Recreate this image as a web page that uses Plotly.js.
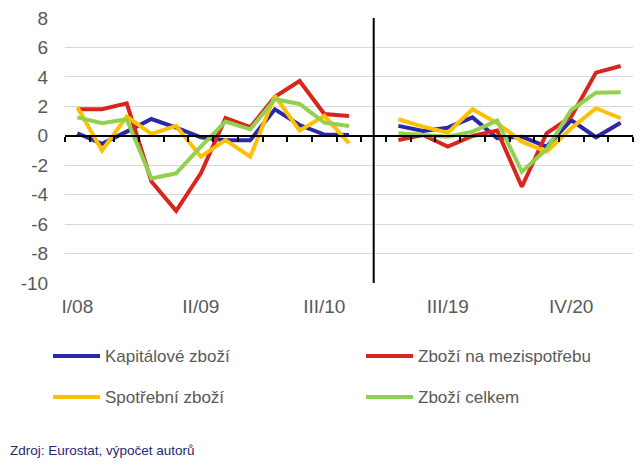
<!DOCTYPE html>
<html>
<head>
<meta charset="utf-8">
<script src="https://cdn.plot.ly/plotly-3.0.1.min.js"></script>
<style>
  html, body { margin: 0; padding: 0; background: #ffffff; }
  #chart { width: 644px; height: 465px; }
</style>
</head>
<body>
<div id="chart"></div>
<script>
// ---- Data ----
var quartersLeft  = ['I/08','II/08','III/08','IV/08','I/09','II/09','III/09','IV/09','I/10','II/10','III/10','IV/10'];
var quartersRight = ['I/19','II/19','III/19','IV/19','I/20','II/20','III/20','IV/20','I/21','II/21'];
var shownLabels   = ['I/08','II/09','III/10','III/19','IV/20'];

var yTickValues = [-10, -8, -6, -4, -2, 0, 2, 4, 6, 8];
var yTickLabels = ['-10', '-8', '-6', '-4', '-2', '0', '2', '4', '6', '8'];

var seriesNames = ['Kapitálové zboží', 'Zboží na mezispotřebu', 'Spotřební zboží', 'Zboží celkem'];
var seriesColors = ['#2a2aa8', '#d9261c', '#ffc000', '#92d050'];

var kapitaloveLeft  = [0.17, -0.55, 0.28, 1.14, 0.55, -0.1, -0.3, -0.3, 1.8, 0.73, 0.08, 0.05];
var kapitaloveRight = [0.67, 0.33, 0.55, 1.25, -0.17, -0.06, -0.74, 1.07, -0.1, 0.89];

var mezispotrebaLeft  = [1.8, 1.8, 2.2, -3.1, -5.1, -2.55, 1.2, 0.58, 2.65, 3.72, 1.48, 1.35];
var mezispotrebaRight = [-0.29, 0.05, -0.74, -0.01, 0.35, -3.46, 0.17, 1.3, 4.29, 4.74];

var spotrebniLeft  = [1.93, -1.0, 1.3, 0.12, 0.67, -1.42, -0.29, -1.42, 2.7, 0.35, 1.35, -0.51];
var spotrebniRight = [1.12, 0.62, 0.21, 1.8, 0.85, -0.4, -1.08, 0.51, 1.87, 1.19];

var celkemLeft  = [1.25, 0.85, 1.12, -2.9, -2.55, -0.74, 0.96, 0.44, 2.48, 2.16, 0.89, 0.67];
var celkemRight = [0.17, 0.05, -0.06, 0.28, 1.03, -2.44, -0.92, 1.75, 2.93, 2.95];

var sourceText = 'Zdroj: Eurostat, výpočet autorů';

// ---- Build the category sequence with one empty slot between the periods ----
var categories = quartersLeft.concat(['']).concat(quartersRight);
var gapIndex = quartersLeft.length;
var xIdx = categories.map(function (c, i) { return i; });

function joinSeries(left, right) { return left.concat([null]).concat(right); }
var seriesValues = [
  joinSeries(kapitaloveLeft, kapitaloveRight),
  joinSeries(mezispotrebaLeft, mezispotrebaRight),
  joinSeries(spotrebniLeft, spotrebniRight),
  joinSeries(celkemLeft, celkemRight)
];

var traces = seriesNames.map(function (name, k) {
  return {
    type: 'scatter', mode: 'lines', name: name,
    x: xIdx, y: seriesValues[k],
    connectgaps: false,
    line: { color: seriesColors[k], width: 4 },
    hoverinfo: 'skip', showlegend: false,
    xaxis: 'x', yaxis: 'y'
  };
});
// empty trace so the zero-line axis (x2) has a subplot
traces.push({ type: 'scatter', mode: 'lines', x: [], y: [], xaxis: 'x2', yaxis: 'y', showlegend: false, hoverinfo: 'skip' });

var tickvals = shownLabels.map(function (l) { return categories.indexOf(l); });

// ---- layout geometry ----
var M = { l: 65, r: 11, t: 18, b: 182 };
var W = 644, H = 465;
var pw = W - M.l - M.r, ph = H - M.t - M.b;
function px(x) { return (x - M.l) / pw; }
function py(y) { return (H - M.b - y) / ph; }

var yMin = yTickValues[0], yMax = yTickValues[yTickValues.length - 1];
var xRange = [-0.5, categories.length - 0.5];
var font = 'Liberation Sans, Arial, sans-serif';

var shapes = [{
  type: 'line', xref: 'x', yref: 'y',
  x0: gapIndex, x1: gapIndex, y0: yMin, y1: yMax,
  line: { color: '#000000', width: 2 }
}];
var annotations = [];

// custom legend (two columns, two rows)
var legendPos = [
  { lx: 53, ty: 356 }, { lx: 366, ty: 356 },
  { lx: 53, ty: 397 }, { lx: 366, ty: 397 }
];
seriesNames.forEach(function (name, k) {
  var p = legendPos[k];
  shapes.push({
    type: 'line', xref: 'paper', yref: 'paper',
    x0: px(p.lx), x1: px(p.lx + 47), y0: py(p.ty), y1: py(p.ty),
    line: { color: seriesColors[k], width: 4 }
  });
  annotations.push({
    xref: 'paper', yref: 'paper', x: px(p.lx + 50), y: py(p.ty),
    xanchor: 'left', yanchor: 'middle', showarrow: false,
    text: name, font: { family: font, size: 17, color: '#595959' }
  });
});

annotations.push({
  xref: 'paper', yref: 'paper', x: px(8), y: py(451),
  xanchor: 'left', yanchor: 'middle', showarrow: false,
  text: sourceText, font: { family: font, size: 13.5, color: '#28286e' }
});

var layout = {
  width: W, height: H,
  margin: M,
  paper_bgcolor: '#ffffff', plot_bgcolor: '#ffffff',
  showlegend: false,
  font: { family: font, color: '#595959' },
  xaxis: {
    type: 'linear', range: xRange,
    tickmode: 'array', tickvals: tickvals, ticktext: shownLabels,
    ticks: 'outside', ticklen: 6, tickcolor: 'rgba(0,0,0,0)',
    showgrid: false, zeroline: false, showline: false,
    tickfont: { family: font, size: 19, color: '#595959' },
    fixedrange: true
  },
  xaxis2: {
    type: 'linear', range: xRange, overlaying: 'x',
    anchor: 'free', position: (0 - yMin) / (yMax - yMin), side: 'bottom',
    tickmode: 'linear', tick0: -0.5, dtick: 1,
    ticks: 'outside', ticklen: 5, tickwidth: 2, tickcolor: '#000000',
    showticklabels: false, showgrid: false, zeroline: false,
    showline: true, linecolor: '#000000', linewidth: 2,
    fixedrange: true
  },
  yaxis: {
    range: [yMin, yMax],
    tickmode: 'array', tickvals: yTickValues, ticktext: yTickLabels,
    showgrid: true, gridcolor: '#d9d9d9', gridwidth: 1,
    zeroline: false, showline: false,
    ticks: 'outside', ticklen: 12, tickcolor: 'rgba(0,0,0,0)',
    tickfont: { family: font, size: 19, color: '#595959' },
    fixedrange: true
  },
  shapes: shapes,
  annotations: annotations
};

Plotly.newPlot('chart', traces, layout, { displayModeBar: false, staticPlot: true });
</script>
</body>
</html>
